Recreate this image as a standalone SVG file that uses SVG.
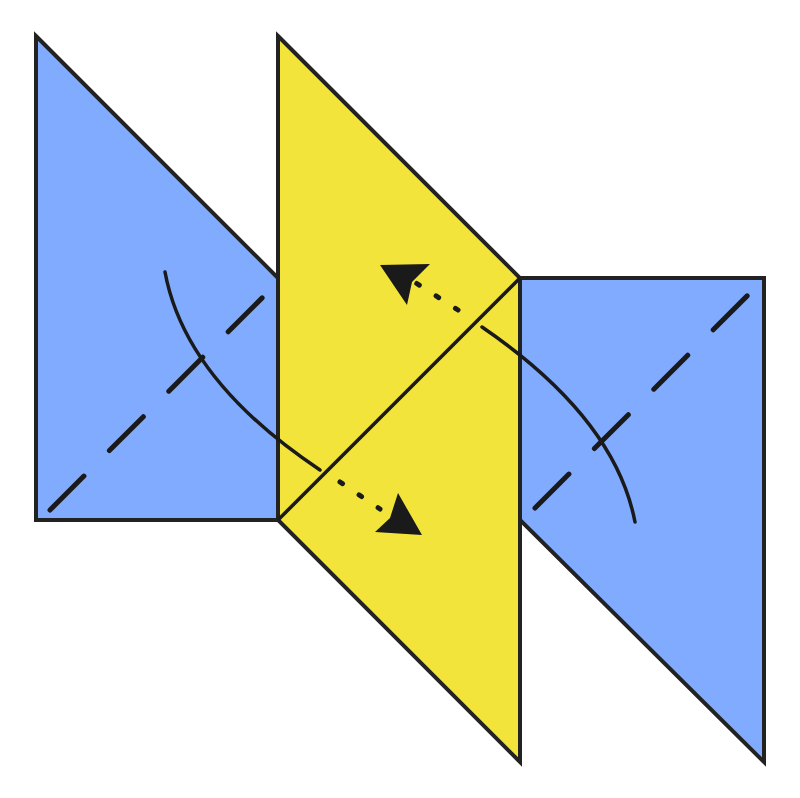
<svg xmlns="http://www.w3.org/2000/svg" width="800" height="798" viewBox="0 0 800 798">
<style>
.blue{fill:#80abff;stroke:#222;stroke-width:4;stroke-linejoin:miter}
.yellow{fill:#f2e43a;stroke:#222;stroke-width:4;stroke-linejoin:miter}
.fold{stroke:#1a1a1a;stroke-width:3.5;fill:none}
.valley{stroke:#1a1a1a;stroke-width:5;stroke-dasharray:48 36;stroke-linecap:round;fill:none}
.arc{stroke:#1a1a1a;stroke-width:3.5;fill:none;stroke-linecap:round}
.dots{stroke:#1a1a1a;stroke-width:5;stroke-dasharray:3 20;stroke-linecap:round;fill:none}
.head{fill:#1a1a1a}
</style>
<rect width="800" height="798" fill="#fff"/>
<g id="right-flap"><path class="blue" d="M520,278 L764,278 L764,762 L520,520 Z"/></g>
<g id="left-flap"><path class="blue" d="M36,36 L278,278 L278,520 L36,520 Z"/></g>
<g id="center"><path class="yellow" d="M278,36 L520,278 L520,762 L278,520 Z"/>
<line class="fold" x1="520" y1="278" x2="278" y2="520"/></g>
<g id="valley-folds">
<line class="valley" x1="50" y1="510" x2="265" y2="295"/>
<line class="valley" x1="535" y1="508" x2="750" y2="293"/>
</g>
<g id="connectors">
<path class="arc" d="M165,272 Q185,380 320,470"/>
<line class="dots" x1="340" y1="482" x2="380" y2="509"/>
<path class="head" d="M422,535 L398,493 L390,518 L375,532 Z"/>
<path class="arc" d="M635,522 Q615,418 482,327"/>
<line class="dots" x1="458" y1="310" x2="416" y2="283"/>
<path class="head" d="M380,265 L430,264 L412,282 L407,305 Z"/>
</g>
</svg>
